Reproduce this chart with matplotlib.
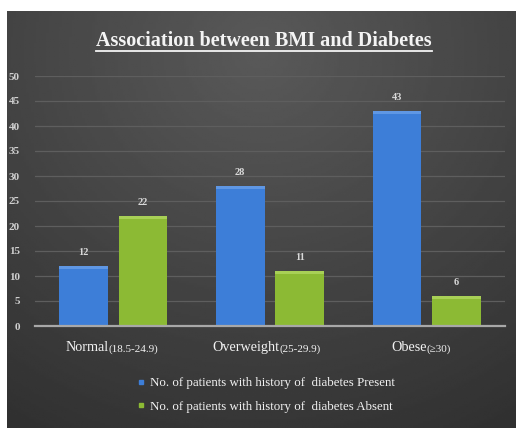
import numpy as np
import matplotlib.pyplot as plt
from matplotlib.lines import Line2D

# data
categories = ["Normal", "Overweight", "Obese"]
ranges = ["(18.5-24.9)", "(25-29.9)", "(\u226530)"]
present = [12, 28, 43]
absent = [22, 11, 6]
series_names = ["No. of patients with history of  diabetes Present",
                "No. of patients with history of  diabetes Absent"]

blue = "#3d7ed8"
green = "#8cba34"
blue_top = "#5f97e4"
green_top = "#a8d056"
txt = "#f2f2f2"
serif = ["Liberation Serif", "DejaVu Serif"]

fig = plt.figure(figsize=(5.17, 4.28), dpi=100, facecolor="white")

# dark gradient panel
bg = fig.add_axes([7/517, 0, 509/517, 417/428])
yy, xx = np.mgrid[0:1:200j, 0:1:200j]
dist = np.sqrt(((xx - 0.5) * 1.0) ** 2 + ((yy - 0.1) * 0.9) ** 2)
shade = 0.35 - 0.17 * dist
bg.imshow(shade, cmap="gray", vmin=0, vmax=1, aspect="auto", extent=[0, 1, 1, 0])
bg.set_axis_off()

ax = fig.add_axes([35/517, 1 - 326/428, 470/517, 250/428])
ax.set_facecolor("none")
x = np.arange(len(categories))
w = 0.31
off = 0.19
cap = 0.6

ax.bar(x - off, present, w, color=blue, zorder=3)
ax.bar(x + off, absent, w, color=green, zorder=3)
# bevel strip on top of each bar
ax.bar(x - off, [cap] * 3, w, bottom=np.array(present) - cap, color=blue_top, zorder=4)
ax.bar(x + off, [cap] * 3, w, bottom=np.array(absent) - cap, color=green_top, zorder=4)

for xi, v in zip(x - off, present):
    ax.text(xi, v + 1.8, str(v), ha="center", va="bottom", color="#d9d9d9",
            fontsize=7.5, family=serif, fontweight="bold")
for xi, v in zip(x + off, absent):
    ax.text(xi, v + 1.8, str(v), ha="center", va="bottom", color="#d9d9d9",
            fontsize=7.5, family=serif, fontweight="bold")

ax.set_xlim(-0.5, 2.5)
ax.set_ylim(0, 50)
ax.set_yticks(np.arange(0, 51, 5))
ax.yaxis.grid(True, color="#5e5e5e", linewidth=0.9, zorder=0)
ax.set_axisbelow(True)
for s in ["top", "right", "left"]:
    ax.spines[s].set_visible(False)
ax.spines["bottom"].set_color("#a8a8a8")
ax.spines["bottom"].set_linewidth(1.6)
ax.spines["bottom"].set_zorder(5)
ax.tick_params(axis="y", length=0, pad=11, labelcolor="#d0d0d0", labelsize=8)
for lab in ax.get_yticklabels():
    lab.set_family(serif)
    lab.set_fontweight("bold")
ax.set_xticks([])

# category labels: name large, range small
split = [-0.03, 0.06, 0.0]
for xi, name, rg, sp in zip(x, categories, ranges, split):
    ax.text(xi + sp, -3.0, name, ha="right", va="top", color=txt,
            fontsize=10.2, family=serif)
    ax.text(xi + sp, -3.6, rg, ha="left", va="top", color=txt,
            fontsize=8, family=serif)

# title with underline
t = fig.text(264/517, 1 - 41/428, "Association between BMI and Diabetes",
             ha="center", va="center", color="#f4f4f4", fontsize=14.5,
             family=serif, fontweight="bold")
fig.canvas.draw()
bb = t.get_window_extent().transformed(fig.transFigure.inverted())
fig.add_artist(Line2D([bb.x0, bb.x1], [1 - 51/428] * 2, color="#f4f4f4",
                      linewidth=1.3, transform=fig.transFigure))

handles = [Line2D([], [], marker="s", linestyle="", color=blue, markersize=3),
           Line2D([], [], marker="s", linestyle="", color=green, markersize=3)]
leg = fig.legend(handles, series_names, loc="center", bbox_to_anchor=(266/517, 1 - 395/428),
                 frameon=False, handlelength=0.6, handletextpad=0.4, labelspacing=0.9,
                 prop={"family": serif, "size": 9.3}, labelcolor=txt)

fig.savefig("out.png", dpi=100, facecolor="white")
